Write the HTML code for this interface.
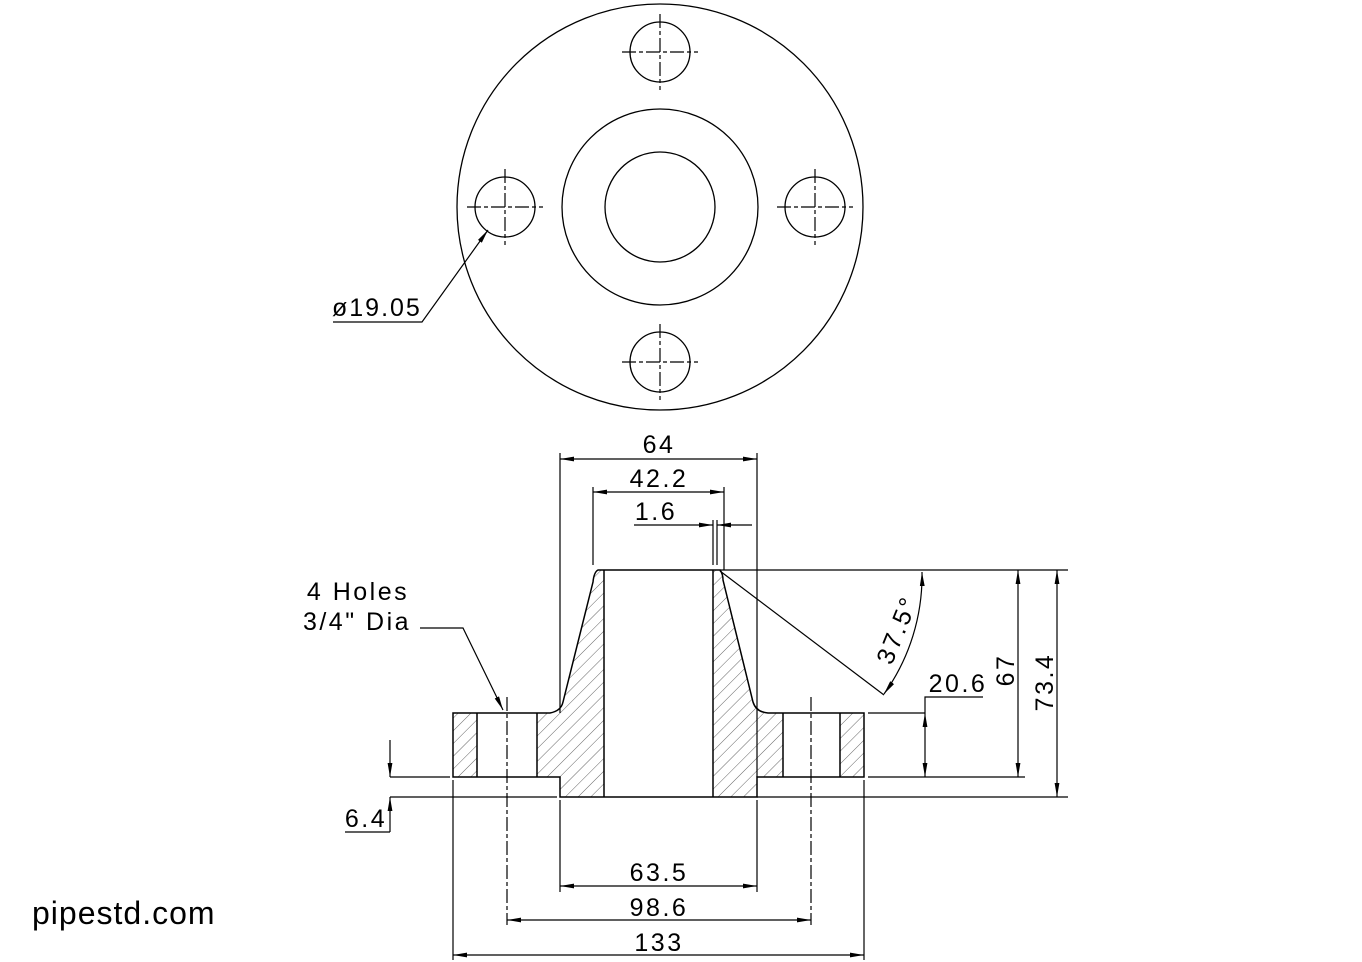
<!DOCTYPE html>
<html><head><meta charset="utf-8"><style>
html,body{margin:0;padding:0;background:#fff}
svg{display:block}
text{font-family:"Liberation Sans",sans-serif;fill:#000}
</style></head><body>
<svg width="1362" height="962" viewBox="0 0 1362 962" xmlns="http://www.w3.org/2000/svg">
<defs>
<marker id="a" viewBox="0 0 14 6" refX="14" refY="3" markerWidth="14" markerHeight="6" markerUnits="userSpaceOnUse" orient="auto-start-reverse"><path d="M0,0.6 L14,3 L0,5.4 Z" fill="#000"/></marker>
<pattern id="h" patternUnits="userSpaceOnUse" width="9" height="9" patternTransform="rotate(45)"><line x1="0" y1="0" x2="0" y2="9" stroke="#666" stroke-width="1"/></pattern>
</defs>
<g fill="none" stroke="#000" stroke-width="1.3">
<circle cx="660" cy="207" r="203"/>
<circle cx="660" cy="207" r="98"/>
<circle cx="660" cy="207" r="55"/>
<circle cx="660" cy="52" r="30"/>
<circle cx="660" cy="362" r="30"/>
<circle cx="505" cy="207" r="30"/>
<circle cx="815" cy="207" r="30"/>
</g>
<g stroke="#000" stroke-width="1.2" stroke-dasharray="14,3,4,3">
<line x1="660" y1="14" x2="660" y2="90"/><line x1="622" y1="52" x2="698" y2="52"/>
<line x1="660" y1="324" x2="660" y2="400"/><line x1="622" y1="362" x2="698" y2="362"/>
<line x1="505" y1="169" x2="505" y2="245"/><line x1="467" y1="207" x2="543" y2="207"/>
<line x1="815" y1="169" x2="815" y2="245"/><line x1="777" y1="207" x2="853" y2="207"/>
</g>
<g fill="none" stroke="#000" stroke-width="1.2">
<polyline points="333,322 422,322 488,230" marker-end="url(#a)"/>
</g>
<text x="332" y="316" font-size="25" letter-spacing="2">ø19.05</text>

<g fill="url(#h)" stroke="none">
<rect x="453" y="713" width="24" height="64"/>
<rect x="840" y="713" width="24" height="64"/>
<path d="M537,713 L550,713 Q561,711 563,702 L593,582 Q594,572 598,570 L604,570 L604,797 L560,797 L560,777 L537,777 Z"/>
<path d="M713,570 L720,570 Q723,574 723,580 L753,702 Q756,712 768,713 L783,713 L783,777 L757,777 L757,797 L713,797 Z"/>
</g>
<g fill="none" stroke="#000" stroke-width="1.5">
<path d="M453,713 L550,713 Q561,711 563,702 L593,582 Q594,572 598,570 L720,570 Q723,574 723,580 L753,702 Q756,712 768,713 L864,713 L864,777 L757,777 L757,797 L560,797 L560,777 L453,777 Z"/>
<line x1="477" y1="713" x2="477" y2="777"/>
<line x1="537" y1="713" x2="537" y2="777"/>
<line x1="783" y1="713" x2="783" y2="777"/>
<line x1="840" y1="713" x2="840" y2="777"/>
<line x1="604" y1="570" x2="604" y2="797"/>
<line x1="713" y1="570" x2="713" y2="797"/>
</g>
<g stroke="#000" stroke-width="1.2" stroke-dasharray="14,3,4,3">
<line x1="507" y1="697" x2="507" y2="925"/>
<line x1="811" y1="697" x2="811" y2="925"/>
</g>
<g stroke="#000" stroke-width="1.2" fill="none">
<line x1="560" y1="453" x2="560" y2="713"/>
<line x1="757" y1="453" x2="757" y2="777"/>
<line x1="593" y1="487" x2="593" y2="565"/>
<line x1="724" y1="487" x2="724" y2="570"/>
<line x1="713" y1="520" x2="713" y2="565"/>
<line x1="717" y1="520" x2="717" y2="565"/>
<line x1="720" y1="570" x2="1068" y2="570"/>
<line x1="868" y1="713" x2="925" y2="713"/>
<line x1="868" y1="777" x2="1025" y2="777"/>
<line x1="757" y1="797" x2="1068" y2="797"/>
<line x1="390" y1="777" x2="450" y2="777"/>
<line x1="390" y1="797" x2="557" y2="797"/>
<line x1="560" y1="800" x2="560" y2="892"/>
<line x1="757" y1="800" x2="757" y2="892"/>
<line x1="453" y1="780" x2="453" y2="960"/>
<line x1="864" y1="780" x2="864" y2="960"/>
<line x1="720" y1="571" x2="884" y2="695"/>
<line x1="560" y1="459" x2="757" y2="459" marker-start="url(#a)" marker-end="url(#a)"/>
<line x1="593" y1="492" x2="724" y2="492" marker-start="url(#a)" marker-end="url(#a)"/>
<line x1="634" y1="525" x2="713" y2="525" marker-end="url(#a)"/>
<line x1="752" y1="525" x2="717" y2="525" marker-end="url(#a)"/>
<line x1="925" y1="713" x2="925" y2="777" marker-start="url(#a)" marker-end="url(#a)"/>
<polyline points="925,713 925,697 983,697"/>
<line x1="1018" y1="570" x2="1018" y2="777" marker-start="url(#a)" marker-end="url(#a)"/>
<line x1="1057" y1="570" x2="1057" y2="797" marker-start="url(#a)" marker-end="url(#a)"/>
<path d="M922,572 A203,203 0 0 1 884,694" marker-start="url(#a)" marker-end="url(#a)"/>
<line x1="390" y1="740" x2="390" y2="777" marker-end="url(#a)"/>
<line x1="390" y1="832" x2="390" y2="797" marker-end="url(#a)"/>
<line x1="345" y1="832" x2="390" y2="832"/>
<line x1="560" y1="886" x2="757" y2="886" marker-start="url(#a)" marker-end="url(#a)"/>
<line x1="507" y1="920" x2="811" y2="920" marker-start="url(#a)" marker-end="url(#a)"/>
<line x1="453" y1="955" x2="864" y2="955" marker-start="url(#a)" marker-end="url(#a)"/>
<polyline points="420,628 463,628 503,710" marker-end="url(#a)"/>
</g>
<g font-size="25" letter-spacing="2.5">
<text x="659" y="453" text-anchor="middle">64</text>
<text x="659" y="487" text-anchor="middle">42.2</text>
<text x="656" y="520" text-anchor="middle">1.6</text>
<text x="958" y="692" text-anchor="middle">20.6</text>
<text transform="translate(1014,670) rotate(-90)" text-anchor="middle">67</text>
<text transform="translate(1053,682) rotate(-90)" text-anchor="middle">73.4</text>
<text transform="translate(905,633) rotate(-68)" text-anchor="middle">37.5°</text>
<text x="366" y="827" text-anchor="middle">6.4</text>
<text x="659" y="881" text-anchor="middle">63.5</text>
<text x="659" y="916" text-anchor="middle">98.6</text>
<text x="659" y="951" text-anchor="middle">133</text>
<text x="358" y="600" text-anchor="middle">4 Holes</text>
<text x="357" y="630" text-anchor="middle">3/4" Dia</text>
</g>
<text x="32" y="924" font-size="32" letter-spacing="1">pipestd.com</text>
</svg>
</body></html>
